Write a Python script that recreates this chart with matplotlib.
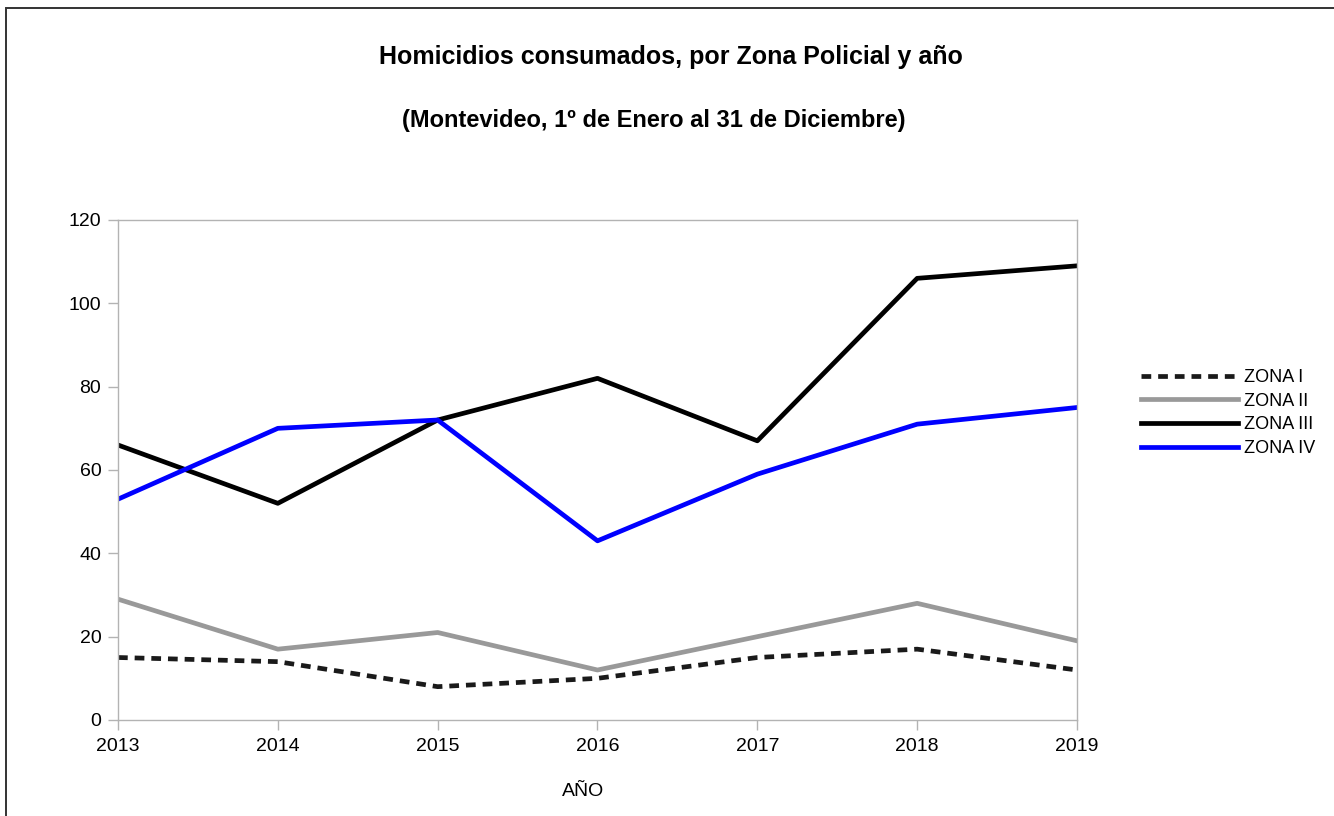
import matplotlib
matplotlib.use('Agg')
import matplotlib.pyplot as plt
from matplotlib.patches import Rectangle

plt.rcParams['font.family'] = ['Liberation Sans', 'DejaVu Sans']
plt.rcParams['lines.scale_dashes'] = False

years = [2013, 2014, 2015, 2016, 2017, 2018, 2019]
zona_1 = [15, 14, 8, 10, 15, 17, 12]
zona_2 = [29, 17, 21, 12, 20, 28, 19]
zona_3 = [66, 52, 72, 82, 67, 106, 109]
zona_4 = [53, 70, 72, 43, 59, 71, 75]
labels = ['ZONA I', 'ZONA II', 'ZONA III', 'ZONA IV']

W, H = 1334, 816
fig = plt.figure(figsize=(W / 100, H / 100), dpi=100)
ax = fig.add_axes([118 / W, 1 - 720 / H, (1077 - 118) / W, (720 - 220) / H])

lw = 3.4
ax.plot(years, zona_1, color='#1a1a1a', lw=lw, dashes=(7, 5), label=labels[0])
ax.plot(years, zona_2, color='#999999', lw=lw, label=labels[1])
ax.plot(years, zona_3, color='black', lw=lw, label=labels[2])
ax.plot(years, zona_4, color='#0000ff', lw=lw, label=labels[3])

ax.set_xlim(2013, 2019)
ax.set_ylim(0, 120)
ax.set_xticks(years)
ax.set_yticks(range(0, 121, 20))
for s in ax.spines.values():
    s.set_color('#b3b3b3')
    s.set_linewidth(1)
ax.tick_params(colors='#b3b3b3', labelcolor='black', labelsize=14, length=7, width=1)
ax.tick_params(axis='x', pad=6)
ax.tick_params(axis='y', pad=5)

fig.text(671 / W, 1 - 57 / H, 'Homicidios consumados, por Zona Policial y año',
         ha='center', va='center', fontsize=18, fontweight='bold')
fig.text(654 / W, 1 - 120 / H, '(Montevideo, 1º de Enero al 31 de Diciembre)',
         ha='center', va='center', fontsize=17, fontweight='bold')
fig.text(583 / W, 1 - 791 / H, 'AÑO', ha='center', va='center', fontsize=14)

fig.legend(loc='center left', bbox_to_anchor=(1141 / W, 1 - 413 / H),
           frameon=False, fontsize=13, handlelength=5.37, handletextpad=0.33,
           labelspacing=0.37, borderpad=0, borderaxespad=0)

# outer frame of the chart area
fig.patches.append(Rectangle((5.5 / W, -0.05), 1.1, 1 - 7.5 / H + 0.05,
                             transform=fig.transFigure, fill=False,
                             edgecolor='#333333', lw=1.4))

fig.savefig('out.png', dpi=100)
